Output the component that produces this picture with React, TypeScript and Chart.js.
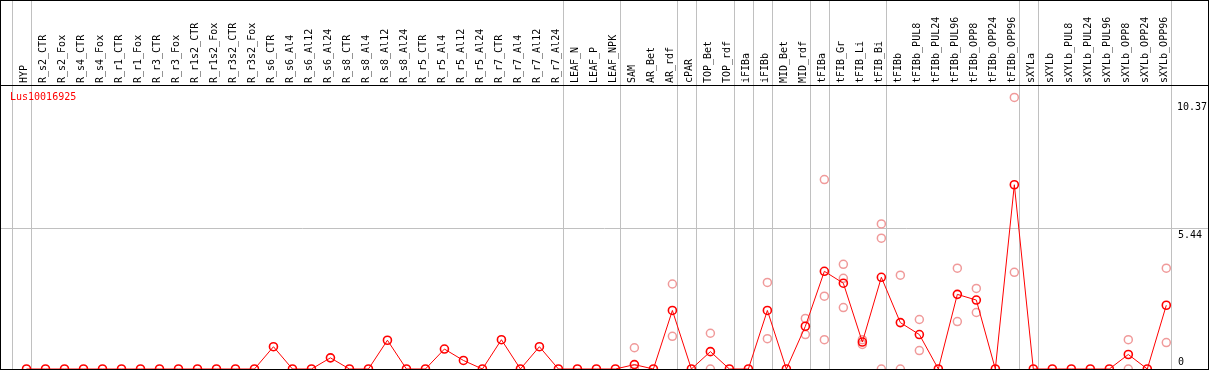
import React, { useEffect, useRef } from "react";
import { Chart, registerables } from "chart.js";

Chart.register(...registerables);

const n = null;

const categories = [
  "HYP",
  "R_s2_CTR", "R_s2_Fox", "R_s4_CTR", "R_s4_Fox", "R_r1_CTR", "R_r1_Fox", "R_r3_CTR", "R_r3_Fox",
  "R_r1s2_CTR", "R_r1s2_Fox", "R_r3s2_CTR", "R_r3s2_Fox",
  "R_s6_CTR", "R_s6_Al4", "R_s6_Al12", "R_s6_Al24",
  "R_s8_CTR", "R_s8_Al4", "R_s8_Al12", "R_s8_Al24",
  "R_r5_CTR", "R_r5_Al4", "R_r5_Al12", "R_r5_Al24",
  "R_r7_CTR", "R_r7_Al4", "R_r7_Al12", "R_r7_Al24",
  "LEAF_N", "LEAF_P", "LEAF_NPK",
  "SAM", "AR_Bet", "AR_rdf",
  "cPAR",
  "TOP_Bet", "TOP_rdf",
  "iFIBa",
  "iFIBb",
  "MID_Bet", "MID_rdf",
  "tFIBa",
  "tFIB_Gr", "tFIB_Li", "tFIB_Bi",
  "tFIBb", "tFIBb_PUL8", "tFIBb_PUL24", "tFIBb_PUL96", "tFIBb_OPP8", "tFIBb_OPP24", "tFIBb_OPP96",
  "sXYLa",
  "sXYLb", "sXYLb_PUL8", "sXYLb_PUL24", "sXYLb_PUL96", "sXYLb_OPP8", "sXYLb_OPP24", "sXYLb_OPP96",
];

// number of categories in each separated group
const groupSizes = [1, 28, 3, 3, 1, 2, 1, 1, 2, 1, 3, 7, 1, 7];

const meanValues = [
  0,
  0, 0, 0, 0, 0, 0, 0, 0, 0, 0, 0, 0,
  0.86, 0, 0, 0.43,
  0, 0, 1.11, 0,
  0, 0.77, 0.33, 0,
  1.13, 0, 0.86, 0,
  0, 0, 0,
  0.17, 0, 2.26,
  0,
  0.67, 0,
  0,
  2.26,
  0, 1.65,
  3.77,
  3.31, 1.04, 3.54,
  1.79, 1.33, 0, 2.88, 2.66, 0, 7.11,
  0,
  0, 0, 0, 0, 0.56, 0, 2.46,
];

const replicate1 = [
  n,
  n, n, n, n, n, n, n, n, n, n, n, n,
  n, n, n, n,
  n, n, n, n,
  n, n, n, n,
  n, n, n, n,
  n, n, n,
  0.82, n, 3.28,
  n,
  1.38, n,
  n,
  3.34,
  n, 1.95,
  7.31,
  4.04, 1.13, 5.6,
  3.62, 1.91, n, 3.89, 3.11, n, 10.48,
  n,
  n, n, n, n, 1.13, n, 3.89,
];

const replicate2 = [
  n,
  n, n, n, n, n, n, n, n, n, n, n, n,
  n, n, n, n,
  n, n, n, n,
  n, n, n, n,
  n, n, n, n,
  n, n, n,
  0, n, 1.26,
  n,
  0, n,
  n,
  1.17,
  n, 1.33,
  2.81,
  3.5, 0.95, 5.05,
  0, 0.71, n, 1.83, 2.18, n, 3.73,
  n,
  n, n, n, n, 0, n, 1.02,
];

const replicate3 = [
  n,
  n, n, n, n, n, n, n, n, n, n, n, n,
  n, n, n, n,
  n, n, n, n,
  n, n, n, n,
  n, n, n, n,
  n, n, n,
  n, n, n,
  n,
  n, n,
  n,
  n,
  n, n,
  1.13,
  2.37, n, 0,
  n, n, n, n, n, n, n,
  n,
  n, n, n, n, n, n, n,
];

const yTickValues = [0, 5.44, 10.37];
const yGridValue = 5.44;
const geneName = "Lus10016925";

const FONT = '"DejaVu Sans Mono", "Liberation Mono", monospace';
const X_MIN = -1.3423;
const X_MAX = 62.195;
const Y_MAX = 10.96;

const toPoints = (arr: (number | null)[]) =>
  arr.map((v, i) => (v === null ? null : { x: i, y: v })).filter((p) => p !== null);

const decorPlugin = {
  id: "decor",
  beforeDraw(chart: any) {
    const { ctx, scales, chartArea } = chart;
    const x = scales.x;
    ctx.save();
    ctx.strokeStyle = "#c0c0c0";
    ctx.lineWidth = 1;
    let idx = -1;
    const bounds = [idx];
    groupSizes.forEach((s) => {
      idx += s;
      bounds.push(idx);
    });
    bounds.forEach((b) => {
      const px = Math.round(x.getPixelForValue(b + 0.23)) + 0.5;
      ctx.beginPath();
      ctx.moveTo(px, 0);
      ctx.lineTo(px, chartArea.bottom);
      ctx.stroke();
    });
    ctx.restore();
  },
  afterDraw(chart: any) {
    const { ctx, scales, width, height } = chart;
    const y = scales.y;
    ctx.save();
    ctx.font = `10px ${FONT}`;
    // gene name
    ctx.fillStyle = "#ff0000";
    ctx.textAlign = "left";
    ctx.textBaseline = "top";
    ctx.fillText(geneName, 10, 92);
    // y labels
    ctx.fillStyle = "#000";
    yTickValues.forEach((v) => {
      const py = y.getPixelForValue(v);
      const label = String(v);
      const w = ctx.measureText(label).width;
      let lx = 1178;
      if (lx + w > width - 2) lx = width - 2 - w;
      if (v === 0) {
        ctx.textBaseline = "bottom";
        ctx.fillText(label, lx, py - 2);
      } else {
        ctx.textBaseline = "top";
        ctx.fillText(label, lx, py + 2);
      }
    });
    // frame
    ctx.strokeStyle = "#000";
    ctx.lineWidth = 1;
    ctx.strokeRect(0.5, 0.5, width - 1, height - 1);
    ctx.restore();
  },
};

export default function App() {
  const ref = useRef<HTMLCanvasElement>(null);
  useEffect(() => {
    document.body.style.margin = "0";
    const canvas = ref.current;
    if (!canvas) return;
    const repStyle = {
      type: "line" as const,
      showLine: false,
      borderColor: "#f09a9a",
      backgroundColor: "rgba(0,0,0,0)",
      pointBorderColor: "#f09a9a",
      pointBackgroundColor: "rgba(0,0,0,0)",
      pointRadius: 4,
      pointBorderWidth: 1.5,
      clip: false as const,
    };
    const chart = new Chart(canvas, {
      type: "line",
      data: {
        datasets: [
          {
            label: "mean",
            data: toPoints(meanValues) as any,
            borderColor: "#ff0000",
            borderWidth: 1,
            backgroundColor: "rgba(0,0,0,0)",
            pointBorderColor: "#ff0000",
            pointBackgroundColor: "rgba(0,0,0,0)",
            pointRadius: 4,
            pointBorderWidth: 1.6,
            tension: 0,
            clip: false as const,
          },
          { ...repStyle, label: "rep1", data: toPoints(replicate1) as any },
          { ...repStyle, label: "rep2", data: toPoints(replicate2) as any },
          { ...repStyle, label: "rep3", data: toPoints(replicate3) as any },
        ],
      },
      options: {
        animation: false,
        responsive: false,
        maintainAspectRatio: false,
        devicePixelRatio: 1,
        layout: { autoPadding: false, padding: { left: 1, right: 1, top: 0, bottom: 1 } },
        plugins: { legend: { display: false }, tooltip: { enabled: false } },
        scales: {
          x: {
            type: "linear",
            position: "top",
            min: X_MIN,
            max: X_MAX,
            afterBuildTicks: (s: any) => {
              s.ticks = categories.map((_, i) => ({ value: i }));
            },
            afterFit: (s: any) => {
              s.height = 85;
            },
            grid: { display: false, drawTicks: false },
            border: { display: true, color: "#000", width: 1 },
            ticks: {
              autoSkip: false,
              maxRotation: 90,
              minRotation: 90,
              padding: 2,
              labelOffset: 10,
              color: "#000",
              font: { family: FONT, size: 10 },
              callback: (v: any) => categories[v] ?? "",
            },
          },
          y: {
            type: "linear",
            position: "right",
            min: 0,
            max: Y_MAX,
            afterBuildTicks: (s: any) => {
              s.ticks = yTickValues.map((v) => ({ value: v }));
            },
            afterFit: (s: any) => {
              s.width = 0;
            },
            grid: {
              drawTicks: false,
              color: (c: any) => (c.tick && c.tick.value === yGridValue ? "#c0c0c0" : "rgba(0,0,0,0)"),
            },
            border: { display: false },
            ticks: { display: false },
          },
        },
      },
      plugins: [decorPlugin],
    } as any);
    return () => chart.destroy();
  }, []);
  return (
    <div style={{ width: 1209, height: 370 }}>
      <canvas ref={ref} width={1209} height={370} style={{ display: "block" }} />
    </div>
  );
}
